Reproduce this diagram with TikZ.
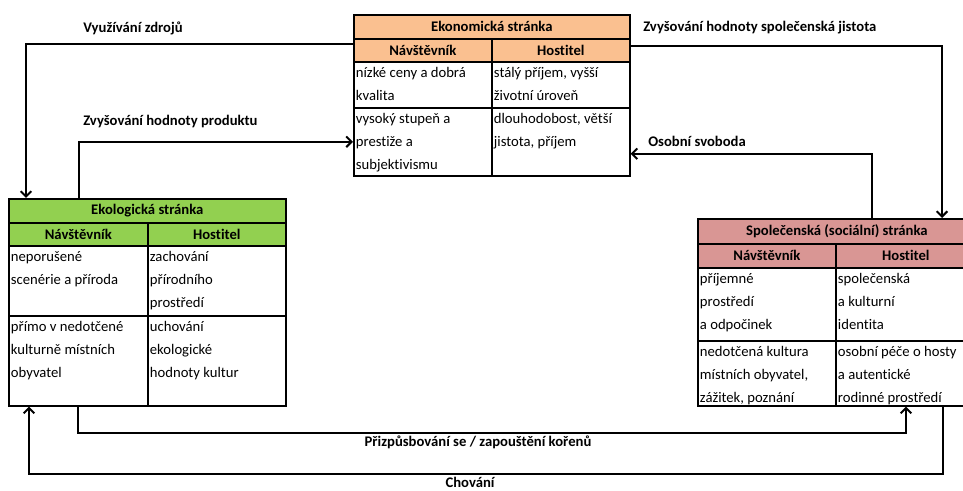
\documentclass[tikz,border=0pt]{standalone}
\usepackage{fontspec}
\setmainfont[Ligatures=NoCommon]{Carlito}
\usetikzlibrary{arrows.meta}
\definecolor{ekonorange}{RGB}{250,192,144}
\definecolor{ekolgreen}{RGB}{146,208,80}
\definecolor{socpink}{RGB}{217,150,148}
\tikzset{
  cell/.style={draw, line width=1.2pt, anchor=north west, inner sep=0pt, font=\fontsize{11}{13}\selectfont\bfseries},
  txt/.style={anchor=north west, align=left, inner xsep=2pt, inner ysep=0pt, font=\fontsize{11}{17.25}\selectfont},
  lbl/.style={inner sep=0pt, font=\fontsize{11}{13}\selectfont\bfseries},
  conn/.style={line width=1.5pt, -{Straight Barb[length=4pt,width=8pt]}}
}
\begin{document}
\begin{tikzpicture}[x=0.75pt,y=-0.75pt]
  \clip (0,0) rectangle (963,491);
  % Ekonomická stránka
  \node[cell, fill=ekonorange, minimum width=207pt, minimum height=18pt] (ekonT) at (353,14) {Ekonomická stránka};
  \node[cell, fill=ekonorange, minimum width=103.5pt, minimum height=17.25pt] (ekonH1) at (353,38) {Návštěvník};
  \node[cell, fill=ekonorange, minimum width=103.5pt, minimum height=17.25pt] (ekonH2) at (491,38) {Hostitel};
  \node[cell, minimum width=103.5pt, minimum height=34.5pt] (ekonA1) at (353,61) {};
  \node[cell, minimum width=103.5pt, minimum height=34.5pt] (ekonA2) at (491,61) {};
  \node[cell, minimum width=103.5pt, minimum height=51pt] (ekonB1) at (353,107) {};
  \node[cell, minimum width=103.5pt, minimum height=51pt] (ekonB2) at (491,107) {};
  \node[txt] (ekonA1t) at (ekonA1.north west) {\strut nízké ceny a dobrá\\kvalita};
  \node[txt] (ekonA2t) at (ekonA2.north west) {\strut stálý příjem, vyšší\\životní úroveň};
  \node[txt] (ekonB1t) at (ekonB1.north west) {\strut vysoký stupeň a\\prestiže a\\subjektivismu};
  \node[txt] (ekonB2t) at (ekonB2.north west) {\strut dlouhodobost, větší\\jistota, příjem};
  % Ekologická stránka
  \node[cell, fill=ekolgreen, minimum width=207.75pt, minimum height=18pt] (ekolT) at (8,198) {Ekologická stránka};
  \node[cell, fill=ekolgreen, minimum width=104.25pt, minimum height=17.25pt] (ekolH1) at (8,222) {Návštěvník};
  \node[cell, fill=ekolgreen, minimum width=103.5pt, minimum height=17.25pt] (ekolH2) at (147,222) {Hostitel};
  \node[cell, minimum width=104.25pt, minimum height=52.5pt] (ekolA1) at (8,245) {};
  \node[cell, minimum width=103.5pt, minimum height=52.5pt] (ekolA2) at (147,245) {};
  \node[cell, minimum width=104.25pt, minimum height=67.5pt] (ekolB1) at (8,315) {};
  \node[cell, minimum width=103.5pt, minimum height=67.5pt] (ekolB2) at (147,315) {};
  \node[txt] (ekolA1t) at (ekolA1.north west) {\strut neporušené\\scenérie a příroda};
  \node[txt] (ekolA2t) at (ekolA2.north west) {\strut zachování\\přírodního\\prostředí};
  \node[txt] (ekolB1t) at (ekolB1.north west) {\strut přímo v nedotčené\\kulturně místních\\obyvatel};
  \node[txt] (ekolB2t) at (ekolB2.north west) {\strut uchování\\ekologické\\hodnoty kultur};
  % Společenská stránka
  \node[cell, fill=socpink, minimum width=208.5pt, minimum height=18.75pt] (socT) at (697,218) {Společenská (sociální) stránka};
  \node[cell, fill=socpink, minimum width=103.5pt, minimum height=18pt] (socH1) at (697,243) {Návštěvník};
  \node[cell, fill=socpink, minimum width=105pt, minimum height=18pt] (socH2) at (835,243) {Hostitel};
  \node[cell, minimum width=103.5pt, minimum height=54.75pt] (socA1) at (697,267) {};
  \node[cell, minimum width=105pt, minimum height=54.75pt] (socA2) at (835,267) {};
  \node[cell, minimum width=103.5pt, minimum height=48.75pt] (socB1) at (697,340) {};
  \node[cell, minimum width=105pt, minimum height=48.75pt] (socB2) at (835,340) {};
  \node[txt] (socA1t) at (socA1.north west) {\strut příjemné\\prostředí\\a odpočinek};
  \node[txt] (socA2t) at (socA2.north west) {\strut společenská\\a kulturní\\identita};
  \node[txt] (socB1t) at (socB1.north west) {\strut nedotčená kultura\\místních obyvatel,\\zážitek, poznání};
  \node[txt] (socB2t) at (socB2.north west) {\strut osobní péče o hosty\\a autentické\\rodinné prostředí};
  % Connectors
  \draw[conn] ([yshift=-4.5pt]ekonH1.north west) -| ([xshift=13.5pt]ekolT.north west);
  \draw[conn] ([xshift=53.25pt]ekolT.north west) |- (ekonB1.west);
  \draw[conn] ([yshift=-6pt]ekonH2.north east) -| ([xshift=183.75pt]socT.north west);
  \draw[conn] ([xshift=131.25pt]socT.north west) |- ([yshift=-9pt]ekonB2.east);
  \draw[conn] ([xshift=52.5pt]ekolB1.south west) -- ++(0,26) -| ([xshift=53.25pt]socB2.south west);
  \draw[conn] ([xshift=81pt]socB2.south west) -- ++(0,67) -| ([xshift=15.75pt]ekolB1.south west);
  % Labels
  \node[lbl, anchor=west] (lZdroje) at (83,28) {Využívání zdrojů};
  \node[lbl, anchor=west] (lProdukt) at (83,122) {Zvyšování hodnoty produktu};
  \node[lbl, anchor=west] (lJistota) at (643,28) {Zvyšování hodnoty společenská jistota};
  \node[lbl, anchor=west] (lSvoboda) at (648,141) {Osobní svoboda};
  \node[lbl] (lKoreny) at (478,442) {Přizpůsbování se / zapouštění kořenů};
  \node[lbl] (lChovani) at (470,482) {Chování};
\end{tikzpicture}
\end{document}
